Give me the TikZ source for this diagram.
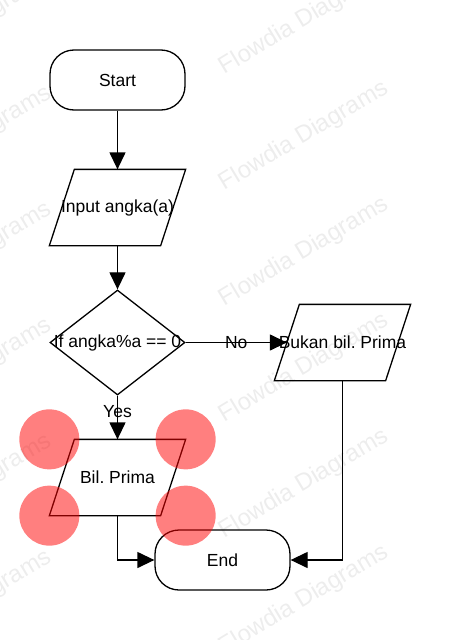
\documentclass[tikz,border=0pt]{standalone}
\usepackage{fontspec}
\setmainfont{Liberation Sans}
\usetikzlibrary{shapes.geometric,arrows.meta}
\frenchspacing

\newcommand{\nowidth}[1]{\makebox[0pt]{#1}}

\tikzset{
  terminal/.style={draw, rectangle, rounded corners=24pt, minimum width=135pt,
    minimum height=60pt, inner sep=0pt},
  io/.style={rectangle, minimum width=110pt, minimum height=75pt, inner sep=0pt,
    append after command={\pgfextra{\draw
      ([xshift=-12.5pt]\tikzlastnode.south west) -- ([xshift=-12.5pt]\tikzlastnode.south east)
      -- ([xshift=12.5pt]\tikzlastnode.north east) -- ([xshift=12.5pt]\tikzlastnode.north west)
      -- cycle;}}},
  decision/.style={draw, diamond, minimum width=135pt, minimum height=105pt, inner sep=0pt},
  flow/.style={draw, -{Triangle[width=16pt,length=17pt]}},
  watermark/.style={text=black!7, rotate=31, font=\fontsize{24}{28}\selectfont},
  handle/.style={fill=red, fill opacity=0.5, draw=none}
}

\begin{document}
\begin{tikzpicture}[x=1pt, y=-1pt, line width=1.3pt, font=\fontsize{17.5}{21}\selectfont]
    \useasboundingbox (0, 0) rectangle (460, 640);

    % watermark
    \foreach \k in {0, ..., 5} {
      \node[watermark] (wmr\k) at (304, {20+116*\k}) {Flowdia Diagrams};
      \node[watermark] (wml\k) at (-33, {25+116*\k}) {Flowdia Diagrams};
    }

    \node[terminal] (start) at (117.5, 80) {Start};
    \node[io] (input) at (117.5, 207.5) {\nowidth{Input angka(a)}};
    \node[decision] (cond) at (117.5, 342.5) {\nowidth{If angka\%a == 0}};
    \node[io] (bil) at (117.5, 477.5) {\nowidth{Bil. Prima}};
    \node[io] (bukan) at (342.5, 342.5) {\nowidth{Bukan bil. Prima}};
    \node[terminal] (end) at (222.5, 560) {End};

    % 1. arrows
    \draw[flow] (start) -- (input);
    \draw[flow] (input) -- (cond);
    \draw[flow] (cond) -- node[pos=0.36] (yes) {Yes} (bil);
    \draw[flow] (cond.east) -- node (no) {No} (bukan.west);
    \draw[flow] (bil.south) |- (end.west);
    \draw[flow] (bukan.south) |- (end.east);

    % 2. handles on the selected shape
    \foreach \c in {([xshift=-12.5pt]bil.north west), ([xshift=12.5pt]bil.north east),
                    ([xshift=-12.5pt]bil.south west), ([xshift=12.5pt]bil.south east)} {
      \fill[handle] \c circle (30);
    }
  \end{tikzpicture}
\end{document}
